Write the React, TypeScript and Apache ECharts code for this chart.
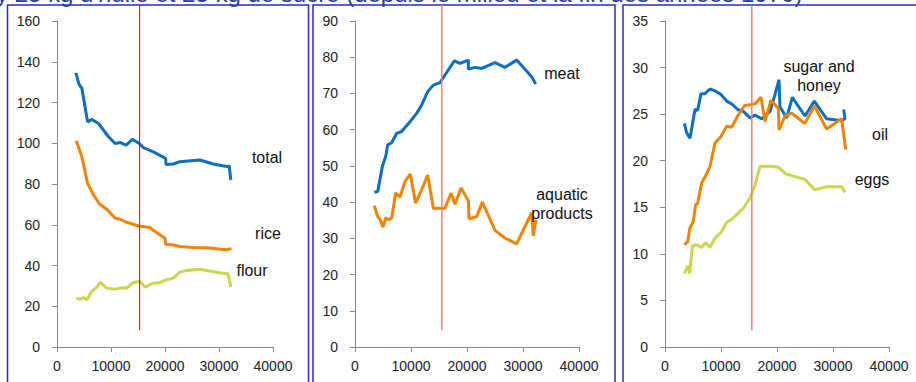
import React, { useEffect, useRef } from "react";
import * as echarts from "echarts";

// Panel 1: cereals (kg per capita) vs income
const totalData: [number, number][] = [
  [3500, 134.5], [4060, 129], [4615, 126.9], [5660, 110.5], [6460, 111.7], [7690, 109.7],
  [9540, 103.2], [10770, 99.9], [11690, 100.4], [12800, 99.1], [13970, 101.9], [15260, 99.9],
  [16000, 97.8], [17850, 95.8], [20120, 92.6], [20190, 89.6], [21540, 89.8], [22770, 90.9],
  [26460, 91.8], [28920, 89.8], [31690, 88.5], [31880, 89.1], [32190, 82],
];
const riceData: [number, number][] = [
  [3570, 101.2], [4615, 93.4], [5660, 80.3], [6770, 74.6], [7880, 70.2], [9230, 67.6],
  [10770, 63.2], [11690, 62.7], [12920, 61.2], [15080, 59.4], [17230, 58.6], [18150, 56.7],
  [20000, 53.4], [20120, 50.4], [21540, 50.1], [22770, 49.3], [25230, 48.8], [27690, 48.7],
  [31380, 47.7], [32310, 48.3],
];
const flourData: [number, number][] = [
  [3570, 23.8], [4310, 23.5], [4920, 24.3], [5540, 23.2], [6460, 27.3], [7380, 29.4],
  [8000, 31.7], [9230, 28.9], [10770, 28.4], [11690, 28.9], [12920, 28.9], [14150, 31.7],
  [15380, 32.2], [16310, 29.4], [17850, 31.3], [19080, 31.7], [20310, 33], [21540, 33.8],
  [22770, 36.7], [24000, 37.6], [26460, 38.2], [28920, 36.9], [31690, 35.8], [32190, 29.4],
];

// Panel 2
const meatData: [number, number][] = [
  [3450, 42.7], [4050, 42.9], [4880, 49.8], [5480, 52.6], [5830, 55.8], [6550, 56.4],
  [7440, 59], [8330, 59.5], [9820, 62.2], [11010, 64.5], [11900, 66.8], [12980, 70.5],
  [13990, 72.3], [15180, 73], [16070, 75.1], [17740, 79], [18750, 78.3], [20240, 79.2],
  [20240, 76.7], [21430, 77.2], [22620, 76.9], [25000, 78.5], [26780, 77.2], [28870, 79.2],
  [31550, 74.6], [32260, 72.6],
];
const aquaticData: [number, number][] = [
  [3450, 39], [4050, 36], [4460, 35.3], [5000, 33.1], [5480, 35.6], [5950, 35.1],
  [6550, 35.6], [7260, 42.5], [8040, 41.4], [8930, 45.7], [9880, 47.7], [10830, 39.7],
  [11900, 43.4], [12980, 47.5], [13990, 38.3], [16070, 38.3], [17140, 42.5], [17860, 39.4],
  [18930, 43.9], [20240, 40.4], [20360, 35.4], [21730, 36], [22740, 40], [25000, 32.2],
  [26780, 30.1], [28870, 28.5], [31550, 37.1], [31840, 30.7], [32320, 35.1],
];

// Panel 3
const sugarData: [number, number][] = [
  [3450, 24.0], [3870, 23.0], [4460, 22.4], [5360, 25.5], [5830, 25.4], [6430, 27.2],
  [7140, 27.2], [8040, 27.7], [8930, 27.5], [10000, 27.1], [11010, 26.4], [11900, 26.1],
  [12980, 25.5], [13990, 25.3], [15180, 24.6], [16070, 24.9], [17260, 24.5], [18750, 25.3],
  [19640, 27.1], [20360, 28.7], [20530, 25.8], [21730, 24.6], [22740, 26.8], [25000, 24.8],
  [26660, 26.4], [28870, 24.5], [31550, 24.3], [32140, 24.5], [31900, 25.5],
];
const oilData: [number, number][] = [
  [3450, 11.0], [4050, 11.3], [4460, 12.8], [5060, 13.5], [5480, 15.3], [5830, 15.4],
  [6550, 17.6], [7440, 18.6], [8040, 19.4], [8930, 21.9], [10000, 22.6], [11010, 23.7],
  [11900, 23.6], [12980, 24.8], [14170, 25.9], [16070, 26.1], [17140, 26.8], [17860, 24.2],
  [18930, 26.5], [20240, 25.6], [20360, 23.3], [21430, 24.8], [22620, 25.1], [25000, 24.0],
  [26660, 25.9], [28870, 23.4], [31550, 24.5], [32260, 21.2],
];
const eggsData: [number, number][] = [
  [3450, 7.9], [4050, 8.7], [4400, 7.9], [4880, 10.8], [5480, 11.0], [6550, 10.7],
  [7260, 11.2], [8040, 10.7], [8930, 11.7], [10000, 12.3], [11010, 13.4], [11900, 13.7],
  [13990, 14.9], [15180, 16.0], [16070, 17.4], [16960, 19.4], [17860, 19.4], [19050, 19.4],
  [20240, 19.3], [21550, 18.6], [22620, 18.4], [25000, 18.0], [26660, 16.9], [28870, 17.2],
  [31550, 17.2], [32140, 16.6],
];

// Vertical reference lines (income threshold)
const refLine1: [number, number][] = [[15300, 8.3], [15300, 167.8]];
const refLine2: [number, number][] = [[15500, 4.7], [15500, 94.4]];
const refLine3: [number, number][] = [[15500, 1.8], [15500, 36.7]];

const yMax = [160, 90, 35];
const yInterval = [20, 10, 5];
const xTicks = { min: 0, max: 40000, interval: 10000 };

const titleText = "y 25 kg d'huile et 25 kg de sucre (depuis le milieu et la fin des années 1970)";

const BLUE = "#0a6fc2";
const ORANGE = "#f08300";
const GREEN = "#cad64e";
const FONT = "'Liberation Sans', Arial, sans-serif";

export default function App() {
  const divRef = useRef<HTMLDivElement>(null);
  useEffect(() => {
    document.body.style.margin = "0";
    const chart = echarts.init(divRef.current!, undefined, { renderer: "svg" });
    const grids = [
      { left: 57, top: 21, width: 216, height: 326 },
      { left: 355, top: 21, width: 224, height: 326 },
      { left: 665, top: 21, width: 224, height: 326 },
    ];
    const axisLine = { show: true, lineStyle: { color: "#888", width: 1 } };
    const xAxis = grids.map((_, i) => ({
      type: "value",
      gridIndex: i,
      ...xTicks,
      splitLine: { show: false },
      axisLine,
      axisTick: { show: true, length: 5, lineStyle: { color: "#888" } },
      axisLabel: {
        fontSize: 14,
        color: "#222",
        margin: 12,
        fontFamily: FONT,
        formatter: (v: number) => String(v),
      },
    }));
    const yAxis = grids.map((_, i) => ({
      type: "value",
      gridIndex: i,
      min: 0,
      max: yMax[i],
      interval: yInterval[i],
      splitLine: { show: false },
      axisLine,
      axisTick: { show: true, length: 5, lineStyle: { color: "#888" } },
      axisLabel: {
        fontSize: 14,
        color: "#222",
        margin: 17,
        fontFamily: FONT,
        formatter: (v: number) => String(v),
      },
    }));
    const line = (data: [number, number][], idx: number, color: string) => ({
      type: "line",
      xAxisIndex: idx,
      yAxisIndex: idx,
      data,
      showSymbol: false,
      symbol: "none",
      lineStyle: { color, width: 3 },
      z: 3,
    });
    const refSeries = (data: [number, number][], idx: number, color: string, w: number) => ({
      type: "line",
      xAxisIndex: idx,
      yAxisIndex: idx,
      data,
      symbol: "none",
      clip: false,
      lineStyle: { color, width: w },
      z: 4,
    });
    const label = (text: string, x: number, y: number) => ({
      type: "text",
      x,
      y,
      style: {
        text,
        fill: "#111",
        fontSize: 16,
        fontFamily: FONT,
        align: "center",
        verticalAlign: "middle",
      },
      z: 10,
    });
    const border = (x: number, w: number) => ({
      type: "rect",
      shape: { x, y: 5, width: w, height: 400 },
      style: { fill: "none", stroke: "#2a2ad0", lineWidth: 1.5 },
      z: 0,
    });
    chart.setOption({
      animation: false,
      grid: grids,
      xAxis,
      yAxis,
      series: [
        line(totalData, 0, BLUE),
        line(riceData, 0, ORANGE),
        line(flourData, 0, GREEN),
        refSeries(refLine1, 0, "#e00000", 1),
        line(meatData, 1, BLUE),
        line(aquaticData, 1, ORANGE),
        refSeries(refLine2, 1, "#ff7a7a", 1.5),
        line(sugarData, 2, BLUE),
        line(oilData, 2, ORANGE),
        line(eggsData, 2, GREEN),
        refSeries(refLine3, 2, "#ff7a7a", 1.5),
      ],
      graphic: [
        border(7.5, 301),
        border(313, 302),
        border(623, 320),
        {
          type: "text",
          x: -4,
          y: 5,
          style: {
            text: titleText,
            fill: "#2b3d9a",
            fontSize: 24,
            fontFamily: FONT,
            align: "left",
            verticalAlign: "bottom",
          },
          z: 10,
        },
        label("total", 267, 157),
        label("rice", 268, 233),
        label("flour", 252, 270),
        label("meat", 562, 73),
        label("aquatic", 562, 194),
        label("products", 562, 213),
        label("sugar and", 819, 66),
        label("honey", 819, 85),
        label("oil", 880, 134),
        label("eggs", 872, 179),
      ],
    });
    return () => chart.dispose();
  }, []);
  return <div ref={divRef} style={{ width: 916, height: 382 }} />;
}
